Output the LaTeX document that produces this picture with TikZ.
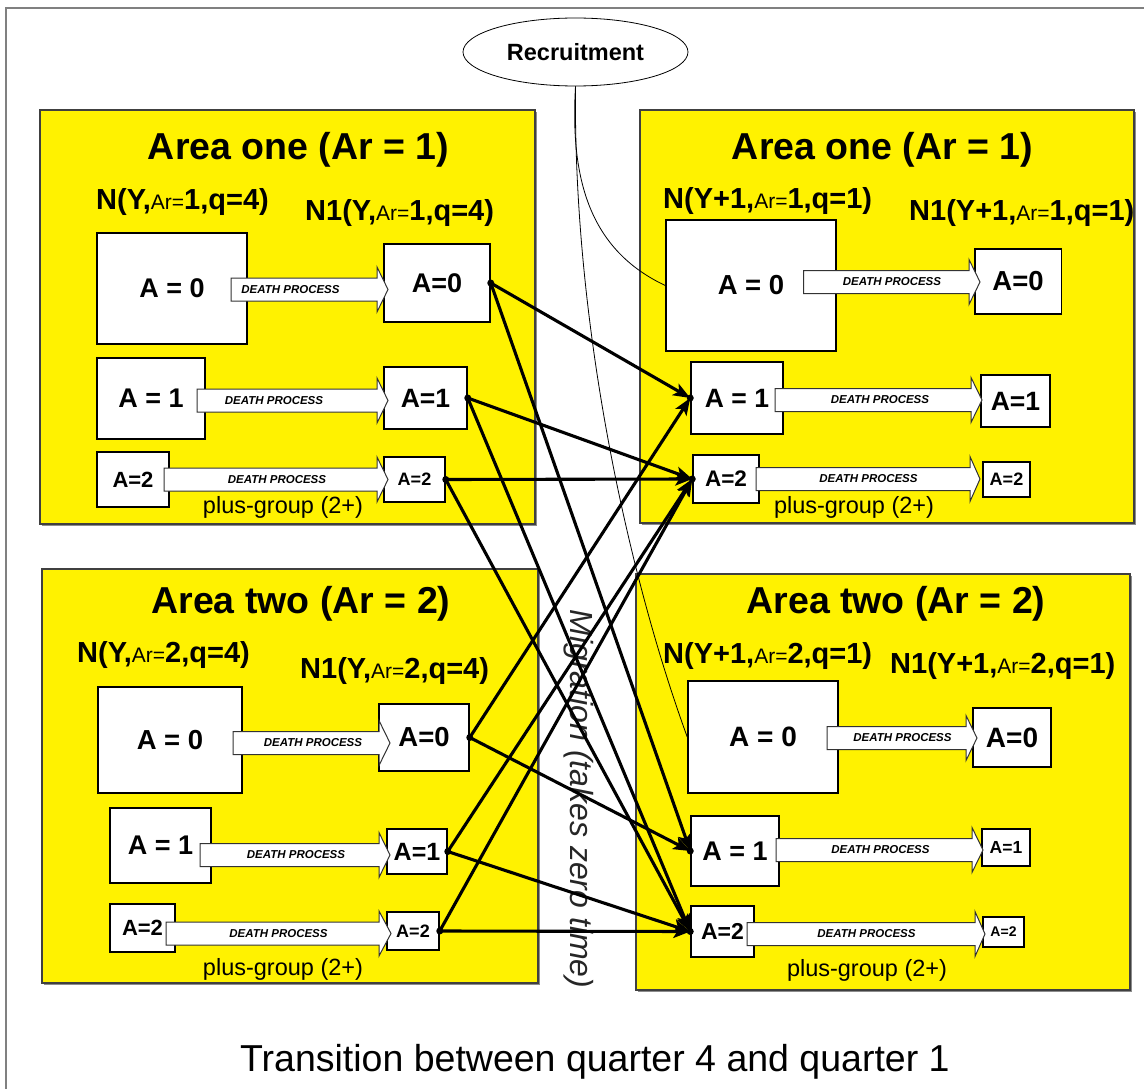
\documentclass[tikz,border=0pt]{standalone}
\usepackage{fontspec}
\setmainfont{Liberation Sans}
\usetikzlibrary{shapes.geometric,arrows.meta}
\newcommand\fs[1]{\fontsize{#1}{#1}\selectfont}
\newcommand\arq{{\fs{21}\mdseries Ar=}}
\newcommand\deathar[6]{%
  \draw[darr] (#2,#5-11.5) -- (#3,#5-11.5) -- (#3,#5-22.5) -- (#4,#5) -- (#3,#5+22.5) -- (#3,#5+11.5) -- (#2,#5+11.5) -- cycle;
  \node[dtext] (#1) at (#6,#5) {DEATH PROCESS};}
\begin{document}
\begin{tikzpicture}[x=1pt,y=-1pt,
  panel/.style={fill=yellow, draw=black!75, line width=1.2},
  pshadow/.style={fill=black!45},
  box/.style={draw=black, line width=1.5, fill=white, inner sep=0pt},
  darr/.style={draw=black!80, fill=white, line width=1},
  dtext/.style={font=\fs{11.5}\bfseries\itshape, inner sep=0pt},
  title/.style={font=\fs{37.5}\bfseries, anchor=base, inner sep=0pt},
  nlbl/.style={font=\fs{29}\bfseries, anchor=base west, inner sep=0pt},
  plus/.style={font=\fs{23.5}, anchor=base, inner sep=0pt},
  mig/.style={line width=3.1, -{Stealth[length=17pt,width=13pt,inset=4pt]}},
  thinline/.style={line width=0.8}
]
\useasboundingbox (0,0) rectangle (1144,1089);
\fill[white] (0,0) rectangle (1144,1089);
% outer frame
\draw[black!50, line width=2] (1150,8) -- (6,8) -- (6,1095);

% panels
\fill[pshadow] (42,112) rectangle (537,526);
\draw[panel] (40,110) rectangle (535,524);
\fill[pshadow] (642,112) rectangle (1136,525);
\draw[panel] (640,110) rectangle (1134,523);
\fill[pshadow] (44,571) rectangle (540,985);
\draw[panel] (42,569) rectangle (538,983);
\fill[pshadow] (638,576) rectangle (1132,992);
\draw[panel] (636,574) rectangle (1130,990);

% recruitment
\node[ellipse, draw=black, fill=white, line width=0.8, minimum width=225, minimum height=68, inner sep=0pt, font=\fs{23.5}\bfseries] (rec) at (575.5,52) {Recruitment};

% boxes TL
\node[box, minimum width=150, minimum height=111, font=\fs{27}\bfseries] (tla0) at (172,288.5) {A = 0};
\node[box, minimum width=106, minimum height=78, font=\fs{27}\bfseries] (tlb0) at (437,283) {A=0};
\node[box, minimum width=108, minimum height=81, font=\fs{27}\bfseries] (tla1) at (151,398.5) {A = 1};
\node[box, minimum width=83, minimum height=62, font=\fs{26.5}\bfseries] (tlb1) at (425.5,398) {A=1};
\node[box, minimum width=72, minimum height=55, font=\fs{22}\bfseries] (tla2) at (133,479.5) {A=2};
\node[box, minimum width=61, minimum height=45, font=\fs{18}\bfseries] (tlb2) at (414.5,479.5) {A=2};
% boxes TR
\node[box, minimum width=170, minimum height=131, font=\fs{27.5}\bfseries] (tra0) at (751,285.5) {A = 0};
\node[box, minimum width=86.5, minimum height=65, font=\fs{27.5}\bfseries] (trb0) at (1018,281.5) {A=0};
\node[box, minimum width=92, minimum height=72, font=\fs{26.5}\bfseries] (tra1) at (737,398) {A = 1};
\node[box, minimum width=69, minimum height=52, font=\fs{26.5}\bfseries] (trb1) at (1015.5,401) {A=1};
\node[box, minimum width=66, minimum height=48, font=\fs{22.5}\bfseries] (tra2) at (726,479) {A=2};
\node[box, minimum width=47, minimum height=35, font=\fs{18}\bfseries] (trb2) at (1006.5,479.5) {A=2};
% boxes BL
\node[box, minimum width=144, minimum height=106, font=\fs{27.5}\bfseries] (bla0) at (170,740) {A = 0};
\node[box, minimum width=90, minimum height=67, font=\fs{27.5}\bfseries] (blb0) at (424,737.5) {A=0};
\node[box, minimum width=101, minimum height=75, font=\fs{27}\bfseries] (bla1) at (160.5,845.5) {A = 1};
\node[box, minimum width=60, minimum height=45, font=\fs{25}\bfseries] (blb1) at (417,851.5) {A=1};
\node[box, minimum width=65, minimum height=48, font=\fs{22}\bfseries] (bla2) at (142.5,928) {A=2};
\node[box, minimum width=52, minimum height=38, font=\fs{18}\bfseries] (blb2) at (413,931) {A=2};
% boxes BR
\node[box, minimum width=150, minimum height=112, font=\fs{28}\bfseries] (bra0) at (763,737) {A = 0};
\node[box, minimum width=78, minimum height=59, font=\fs{28}\bfseries] (brb0) at (1012,737.5) {A=0};
\node[box, minimum width=88, minimum height=70, font=\fs{27}\bfseries] (bra1) at (735,851) {A = 1};
\node[box, minimum width=48, minimum height=37, font=\fs{17.5}\bfseries] (brb1) at (1006,847.5) {A=1};
\node[box, minimum width=63, minimum height=51, font=\fs{23}\bfseries] (bra2) at (722.5,931.5) {A=2};
\node[box, minimum width=41, minimum height=30, font=\fs{14}\bfseries] (brb2) at (1003.5,932) {A=2};

% recruitment curves
\draw[thinline] (rec.south) .. controls (570,180) and (590,250) .. (tra0.west);
\draw[thinline] (rec.south) .. controls (573,330) and (630,580) .. (bra0.west);

% death process arrows
\deathar{dtl0}{231}{377}{388}{289.5}{290.5}
\deathar{dtl1}{197}{377}{388}{400.5}{274}
\deathar{dtl2}{164}{377}{388}{479.5}{277}
\deathar{dtr0}{803.5}{969}{980}{282}{892}
\deathar{dtr1}{775}{971}{982}{400}{880}
\deathar{dtr2}{756}{970}{980}{479}{868.5}
\deathar{dbl0}{233}{379}{390}{743}{313}
\deathar{dbl1}{200}{379}{390}{855}{296}
\deathar{dbl2}{166}{379}{391}{933.5}{278.5}
\deathar{dbr0}{827}{966}{977}{738}{902.5}
\deathar{dbr1}{776}{972}{983}{850}{880.5}
\deathar{dbr2}{747}{975}{985}{934}{866.5}

% titles
\node[title] (ttl) at (298.5,160) {Area one (Ar = 1)};
\node[title] (ttr) at (882.5,160) {Area one (Ar = 1)};
\node[title] (tbl) at (301,613) {Area two (Ar = 2)};
\node[title] (tbr) at (896,613) {Area two (Ar = 2)};

% N labels
\node[nlbl] (ntl) at (96,210) {N(Y,\arq 1,q=4)};
\node[nlbl] (n1tl) at (305,220) {N1(Y,\arq 1,q=4)};
\node[nlbl] (ntr) at (663,208) {N(Y+1,\arq 1,q=1)};
\node[nlbl] (n1tr) at (909,220) {N1(Y+1,\arq 1,q=1)};
\node[nlbl] (nbl) at (77,662) {N(Y,\arq 2,q=4)};
\node[nlbl] (n1bl) at (300,678) {N1(Y,\arq 2,q=4)};
\node[nlbl] (nbr) at (663,663) {N(Y+1,\arq 2,q=1)};
\node[nlbl] (n1br) at (890,673) {N1(Y+1,\arq 2,q=1)};

% plus group
\node[plus] (ptl) at (283,513) {plus-group (2+)};
\node[plus] (ptr) at (854,513) {plus-group (2+)};
\node[plus] (pbl) at (283,975) {plus-group (2+)};
\node[plus] (pbr) at (867,976) {plus-group (2+)};

% migration label
\node[font=\fs{32}\itshape, rotate=-90, anchor=base, inner sep=0pt, text=black!85] (migr) at (570,799) {Migration (takes zero time)};

% caption
\node[font=\fs{37.5}, anchor=base west, inner sep=0pt] (cap) at (240,1071) {Transition between quarter 4 and quarter 1};

% migration arrows
\draw[mig] (tlb0.east) -- (tra1.west);
\draw[mig] (tlb0.east) -- (bra1.west);
\draw[mig] (tlb1.east) -- (tra2.west);
\draw[mig] (tlb1.east) -- (bra2.west);
\draw[mig] (tlb2.east) -- (tra2.west);
\draw[mig] (tlb2.east) -- (bra2.west);
\draw[mig] (blb0.east) -- (tra1.west);
\draw[mig] (blb0.east) -- (bra1.west);
\draw[mig] (blb1.east) -- (tra2.west);
\draw[mig] (blb1.east) -- (bra2.west);
\draw[mig] (blb2.east) -- (tra2.west);
\draw[mig] (blb2.east) -- (bra2.west);
\foreach \n/\a in {tlb0/east,tlb1/east,tlb2/east,blb0/east,blb1/east,blb2/east,tra1/west,tra2/west,bra1/west,bra2/west}
  \fill (\n.\a) circle (3.5);
\end{tikzpicture}
\end{document}
